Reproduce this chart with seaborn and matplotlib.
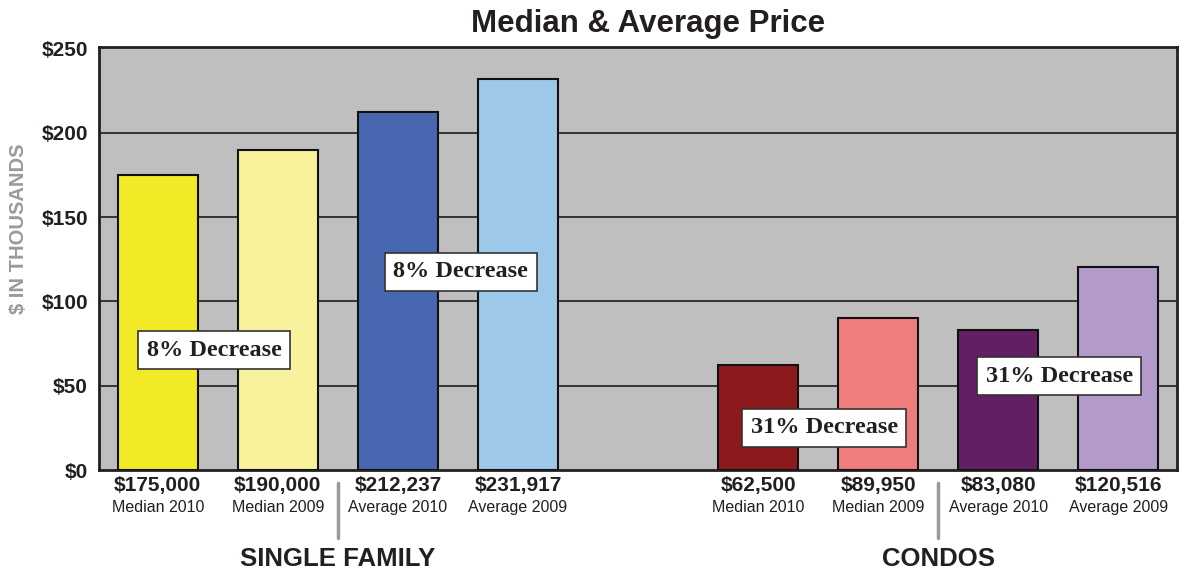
import matplotlib
matplotlib.use("Agg")
import matplotlib.pyplot as plt
import seaborn as sns
import pandas as pd

# ---- data ----
categories = ["SF Median 2010", "SF Median 2009", "SF Average 2010", "SF Average 2009",
              "CO Median 2010", "CO Median 2009", "CO Average 2010", "CO Average 2009"]
values = [175.000, 190.000, 212.237, 231.917, 62.500, 89.950, 83.080, 120.516]
value_labels = ["$175,000", "$190,000", "$212,237", "$231,917",
                "$62,500", "$89,950", "$83,080", "$120,516"]
sub_labels = ["Median 2010", "Median 2009", "Average 2010", "Average 2009",
              "Median 2010", "Median 2009", "Average 2010", "Average 2009"]
colors = ["#F2EA27", "#F7F29B", "#4967B0", "#9EC8EA",
          "#8C1A1D", "#F07D7E", "#621F63", "#B49AC8"]
group_names = ["SINGLE FAMILY", "CONDOS"]
ytick_vals = [0, 50, 100, 150, 200, 250]
ytick_labels = ["$0", "$50", "$100", "$150", "$200", "$250"]
annotations = ["8% Decrease", "8% Decrease", "31% Decrease", "31% Decrease"]
annot_pos = [(0.47, 71), (2.525, 117.5), (5.55, 25), (7.51, 55.5)]

order = categories[:4] + [" "] + categories[4:]
df = pd.DataFrame({"cat": categories, "val": values})

sns.set_theme(style="white")
plt.rcParams["font.family"] = ["Liberation Sans", "DejaVu Sans"]

fig = plt.figure(figsize=(11.88, 5.71), dpi=100)
ax = fig.add_axes([99 / 1188, 1 - 470 / 571, (1177 - 99) / 1188, (470 - 47) / 571])
ax.set_facecolor("#BFBFBF")

sns.barplot(data=df, x="cat", y="val", hue="cat", order=order, hue_order=categories,
            palette=colors, width=0.667, edgecolor="#111111", linewidth=1.5,
            legend=False, saturation=1, ax=ax, zorder=3)

ax.set_xlim(-0.49, 8.49)
ax.set_ylim(0, 251)
ax.set_yticks(ytick_vals)
ax.set_yticklabels(ytick_labels, fontsize=15, fontweight="bold", color="#231F20")
ax.tick_params(axis="y", length=0, pad=8)
ax.set_xticks([])
ax.set_xlabel("")
ax.set_ylabel("")
for y in ytick_vals[1:-1]:
    ax.axhline(y, color="#333333", linewidth=1.4, zorder=1)
for s in ax.spines.values():
    s.set_visible(True)
    s.set_color("#231F20")
    s.set_linewidth(2)

# x positions of bars
positions = [0, 1, 2, 3, 5, 6, 7, 8]
for p, vl, sl in zip(positions, value_labels, sub_labels):
    ax.text(p, -9, vl, ha="center", va="center", fontsize=15, fontweight="bold",
            color="#231F20", transform=ax.transData, clip_on=False)
    ax.text(p, -22.5, sl, ha="center", va="center", fontsize=11.5,
            color="#231F20", transform=ax.transData, clip_on=False)

# separators and group names
for sep, name in zip([1.5, 6.5], group_names):
    ax.plot([sep, sep], [-7.5, -40.5], color="#9A9A9A", linewidth=2.5, clip_on=False)
    ax.text(sep, -53, name, ha="center", va="center", fontsize=18.5,
            fontweight="bold", color="#231F20", clip_on=False)

# annotation boxes
for txt, (xp, yp) in zip(annotations, annot_pos):
    ax.text(xp, yp, txt, ha="center", va="center", fontsize=17.5, fontweight="bold",
            family=["Liberation Serif", "DejaVu Serif"], color="#231F20", zorder=5,
            bbox=dict(boxstyle="square,pad=0.35", facecolor="white",
                      edgecolor="#333333", linewidth=1.2))

fig.text(648 / 1188, 1 - 24 / 571, "Median & Average Price", ha="center", va="center",
         fontsize=22.5, fontweight="bold", color="#231F20")
fig.text(19 / 1188, 1 - 229 / 571, "$ IN THOUSANDS", ha="center", va="center",
         rotation=90, fontsize=14.5, fontweight="bold", color="#9A9A9A")

fig.savefig("out.png", dpi=100)
